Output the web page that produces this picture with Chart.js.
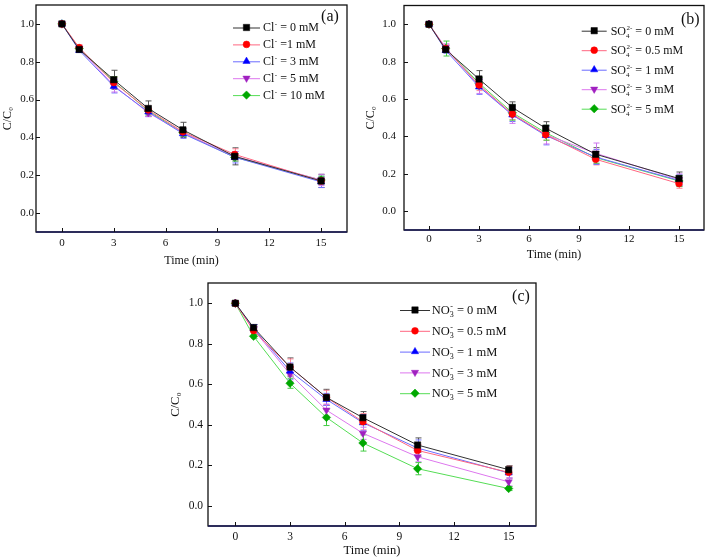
<!DOCTYPE html>
<html>
<head>
<meta charset="utf-8">
<script src="https://cdn.jsdelivr.net/npm/chart.js@4.4.1/dist/chart.umd.min.js"></script>
<style>
  body { margin: 0; background: #fff; }
  #wrap { position: relative; width: 709px; height: 560px; overflow: hidden; }
  canvas { position: absolute; }
</style>
</head>
<body>
<div id="wrap">
  <canvas id="chartA" width="352" height="272" style="left:0px;top:0px"></canvas>
  <canvas id="chartB" width="353" height="266" style="left:356px;top:0px"></canvas>
  <canvas id="chartC" width="377" height="282" style="left:165px;top:278px"></canvas>
</div>
<script>
// time points (min) and axis ticks
const timeMin = [0, 1, 3, 5, 7, 10, 15];
const xTicks = [0, 3, 6, 9, 12, 15];
const yTicks = [0, 0.2, 0.4, 0.6, 0.8, 1.0];

// (a) Cl-
const clLabels = [' = 0 mM', ' =1 mM', ' = 3 mM', ' = 5 mM', ' = 10 mM'];
const cl0 = [1.0, 0.865, 0.705, 0.553, 0.44, 0.30, 0.17];
const cl1 = [1.0, 0.875, 0.69, 0.545, 0.43, 0.31, 0.17];
const cl3 = [1.0, 0.86, 0.67, 0.535, 0.42, 0.295, 0.165];
const cl5 = [1.0, 0.87, 0.675, 0.53, 0.425, 0.30, 0.175];
const cl10 = [1.0, 0.87, 0.695, 0.54, 0.425, 0.295, 0.175];
const clErr0 = [0.005, 0.01, 0.05, 0.04, 0.04, 0.045, 0.035];
const clErr1 = [0.005, 0.015, 0.03, 0.02, 0.02, 0.03, 0.02];
const clErr3 = [0.005, 0.01, 0.035, 0.025, 0.025, 0.03, 0.03];
const clErr5 = [0.005, 0.015, 0.035, 0.02, 0.02, 0.025, 0.03];
const clErr10 = [0.005, 0.01, 0.025, 0.02, 0.02, 0.02, 0.02];

// (b) SO4 2-
const soLabels = [' = 0 mM', ' = 0.5 mM', ' = 1 mM', ' = 3 mM', ' = 5 mM'];
const so0 = [1.0, 0.865, 0.707, 0.555, 0.444, 0.305, 0.175];
const so05 = [1.0, 0.87, 0.675, 0.52, 0.41, 0.278, 0.148];
const so1 = [1.0, 0.86, 0.665, 0.515, 0.405, 0.29, 0.165];
const so3 = [1.0, 0.875, 0.67, 0.515, 0.41, 0.31, 0.17];
const so5 = [1.0, 0.87, 0.685, 0.527, 0.42, 0.287, 0.162];
const soErr0 = [0.005, 0.01, 0.045, 0.03, 0.035, 0.035, 0.035];
const soErr05 = [0.005, 0.02, 0.03, 0.03, 0.03, 0.03, 0.025];
const soErr1 = [0.005, 0.015, 0.04, 0.035, 0.05, 0.04, 0.03];
const soErr3 = [0.005, 0.02, 0.04, 0.045, 0.05, 0.055, 0.03];
const soErr5 = [0.005, 0.04, 0.03, 0.04, 0.04, 0.03, 0.03];

// (c) NO3-
const noLabels = [' = 0 mM', ' = 0.5 mM', ' = 1 mM', ' = 3 mM', ' = 5 mM'];
const no0 = [1.0, 0.88, 0.685, 0.535, 0.435, 0.30, 0.178];
const no05 = [1.0, 0.865, 0.685, 0.535, 0.415, 0.273, 0.165];
const no1 = [1.0, 0.875, 0.665, 0.525, 0.41, 0.285, 0.162];
const no3 = [1.0, 0.87, 0.65, 0.472, 0.358, 0.242, 0.118];
const no5 = [1.0, 0.837, 0.605, 0.436, 0.31, 0.183, 0.085];
const noErr0 = [0.005, 0.015, 0.045, 0.04, 0.03, 0.035, 0.02];
const noErr05 = [0.005, 0.02, 0.04, 0.035, 0.04, 0.03, 0.03];
const noErr1 = [0.005, 0.02, 0.04, 0.03, 0.04, 0.04, 0.025];
const noErr3 = [0.005, 0.015, 0.035, 0.03, 0.03, 0.025, 0.02];
const noErr5 = [0.005, 0.01, 0.025, 0.04, 0.04, 0.03, 0.01];

const SERIF = "'Liberation Serif', 'Times New Roman', serif";

// one style per series position: black square, red circle, blue triangle, magenta down triangle, green diamond
const styles = [
  { line: '#333333', fill: '#000000', err: '#555555', shape: 'rect', r: 4.5, rot: 0 },
  { line: '#ff6680', fill: '#ff0000', err: '#ff8899', shape: 'circle', r: 3.4, rot: 0 },
  { line: '#6b6bff', fill: '#0000ff', err: '#7777ff', shape: 'triangle', r: 4.2, rot: 0 },
  { line: '#dd77ee', fill: '#a020c0', err: '#cc77ee', shape: 'triangle', r: 4.2, rot: 180 },
  { line: '#55dd55', fill: '#00a800', err: '#44cc44', shape: 'rectRot', r: 4.2, rot: 0 }
];

function makeSets(ionText, labels, series, errs) {
  return series.map((vals, k) => {
    const s = styles[k];
    return {
      label: ionText + labels[k],
      data: timeMin.map((t, i) => ({ x: t, y: vals[i] })),
      err: errs[k],
      errColor: s.err,
      borderColor: s.line,
      borderWidth: 1,
      backgroundColor: s.fill,
      pointBackgroundColor: s.fill,
      pointBorderColor: s.fill,
      pointBorderWidth: 0.5,
      pointStyle: s.shape,
      pointRotation: s.rot,
      pointRadius: s.r,
      tension: 0
    };
  });
}

// error bars drawn under the markers
const errorBars = {
  id: 'errorBars',
  beforeDatasetsDraw(chart) {
    const { ctx, scales: { x, y } } = chart;
    ctx.save();
    chart.data.datasets.forEach(ds => {
      ctx.strokeStyle = ds.errColor;
      ctx.lineWidth = 1;
      timeMin.forEach((t, i) => {
        const e = ds.err[i];
        const v = ds.data[i].y;
        const px = Math.round(x.getPixelForValue(t)) + 0.5;
        const top = y.getPixelForValue(v + e);
        const bot = y.getPixelForValue(v - e);
        ctx.beginPath();
        ctx.moveTo(px, top); ctx.lineTo(px, bot);
        ctx.moveTo(px - 3, top); ctx.lineTo(px + 3, top);
        ctx.moveTo(px - 3, bot); ctx.lineTo(px + 3, bot);
        ctx.stroke();
      });
    });
    ctx.restore();
  }
};

// box around the plot and inward ticks on bottom and left
const frame = {
  id: 'frame',
  afterDatasetsDraw(chart) {
    const { ctx, chartArea: a, scales: { x, y } } = chart;
    ctx.save();
    ctx.strokeStyle = '#111';
    ctx.lineWidth = 1.3;
    ctx.strokeRect(a.left, a.top, a.right - a.left, a.bottom - a.top);
    ctx.strokeStyle = '#1c1c5a';
    ctx.beginPath();
    ctx.moveTo(a.left, a.bottom); ctx.lineTo(a.right, a.bottom);
    ctx.stroke();
    ctx.lineWidth = 1;
    ctx.strokeStyle = '#111';
    ctx.beginPath();
    xTicks.forEach(t => {
      const px = Math.round(x.getPixelForValue(t)) + 0.5;
      ctx.moveTo(px, a.bottom); ctx.lineTo(px, a.bottom - 4);
    });
    yTicks.forEach(t => {
      const py = Math.round(y.getPixelForValue(t)) + 0.5;
      ctx.moveTo(a.left, py); ctx.lineTo(a.left + 4, py);
    });
    ctx.stroke();
    ctx.restore();
  }
};

// legend inside the plot: line + marker + ion text with sub/superscript
const ionLegend = {
  id: 'ionLegend',
  afterDraw(chart, args, o) {
    const { ctx } = chart;
    ctx.save();
    chart.data.datasets.forEach((ds, k) => {
      const cy = o.y0 + k * o.dy;
      ctx.strokeStyle = ds.borderColor;
      ctx.lineWidth = 1;
      ctx.beginPath();
      ctx.moveTo(o.x0, cy + 0.5); ctx.lineTo(o.x1, cy + 0.5);
      ctx.stroke();
      ctx.fillStyle = ds.pointBackgroundColor;
      ctx.strokeStyle = ds.pointBorderColor;
      ctx.lineWidth = 0.5;
      Chart.helpers.drawPoint(ctx, { pointStyle: ds.pointStyle, rotation: ds.pointRotation, radius: ds.pointRadius, borderWidth: 0.5 }, (o.x0 + o.x1) / 2, cy);
      // text
      const f = o.size;
      const base = cy + f * 0.33;
      let tx = o.tx;
      ctx.fillStyle = '#111';
      ctx.textBaseline = 'alphabetic';
      ctx.textAlign = 'left';
      ctx.font = f + 'px ' + SERIF;
      ctx.fillText(o.ion.base, tx, base);
      tx += ctx.measureText(o.ion.base).width;
      const sf = Math.round(f * 0.6);
      ctx.font = sf + 'px ' + SERIF;
      let w = 0;
      if (o.ion.sub) {
        ctx.fillText(o.ion.sub, tx, base + f * 0.25);
        w = Math.max(w, ctx.measureText(o.ion.sub).width);
      }
      if (o.ion.sup) {
        ctx.fillText(o.ion.sup, tx + 0.5, base - f * 0.42);
        w = Math.max(w, ctx.measureText(o.ion.sup).width + 0.5);
      }
      tx += w;
      ctx.font = f + 'px ' + SERIF;
      ctx.fillText(o.suffix[k], tx, base);
    });
    ctx.font = o.tagSize + 'px ' + SERIF;
    ctx.textAlign = 'center';
    ctx.textBaseline = 'middle';
    ctx.fillStyle = '#111';
    ctx.fillText(o.tag, o.tagX, o.tagY);
    ctx.restore();
  }
};

function makeChart(id, sets, g) {
  return new Chart(document.getElementById(id), {
    type: 'line',
    data: { datasets: sets },
    plugins: [errorBars, frame, ionLegend],
    options: {
      responsive: false,
      animation: false,
      layout: { padding: g.pad },
      plugins: {
        legend: { display: false },
        tooltip: { enabled: false },
        ionLegend: g.legend
      },
      scales: {
        x: {
          type: 'linear',
          min: -1.5, max: 16.5,
          afterBuildTicks: s => { s.ticks = xTicks.map(v => ({ value: v })); },
          afterFit: s => { s.height = g.xh; s.paddingLeft = 0; s.paddingRight = 0; },
          grid: { display: false, drawTicks: false },
          border: { display: false },
          ticks: { padding: g.xtp, color: '#111', font: { family: SERIF, size: g.tick }, maxRotation: 0 },
          title: { display: true, text: 'Time (min)', color: '#111', font: { family: SERIF, size: g.title }, padding: { top: 0, bottom: g.xtitle } }
        },
        y: {
          type: 'linear',
          min: -0.1, max: 1.1,
          afterBuildTicks: s => { s.ticks = yTicks.map(v => ({ value: v })); },
          afterFit: s => { s.width = g.yw; s.paddingTop = 0; s.paddingBottom = 0; },
          grid: { display: false, drawTicks: false },
          border: { display: false },
          ticks: { padding: g.ytp, color: '#111', font: { family: SERIF, size: g.tick }, callback: v => v.toFixed(1) },
          title: { display: true, text: 'C/C₀', color: '#111', font: { family: SERIF, size: g.title }, padding: { top: g.ytitle, bottom: 0 } }
        }
      }
    }
  });
}

makeChart('chartA',
  makeSets('Cl⁻', clLabels, [cl0, cl1, cl3, cl5, cl10], [clErr0, clErr1, clErr3, clErr5, clErr10]),
  {
    pad: { left: 0, right: 4, top: 2, bottom: 0 }, xh: 40, yw: 36,
    xtp: 5, ytp: 2, tick: 11, title: 12, xtitle: 4, ytitle: 1,
    legend: { x0: 233, x1: 260, tx: 263, y0: 27.5, dy: 16.9, size: 12, ion: { base: 'Cl', sub: '', sup: '-' }, suffix: clLabels,
              tag: '(a)', tagX: 330, tagY: 17, tagSize: 16 }
  });

makeChart('chartB',
  makeSets('SO₄²⁻', soLabels, [so0, so05, so1, so3, so5], [soErr0, soErr05, soErr1, soErr3, soErr5]),
  {
    pad: { left: 0, right: 3, top: 5.5, bottom: 0 }, xh: 36, yw: 48,
    xtp: 3, ytp: 8, tick: 11, title: 12, xtitle: 4, ytitle: 7.5,
    legend: { x0: 225.7, x1: 250.7, tx: 254.7, y0: 30.7, dy: 19.5, size: 12, ion: { base: 'SO', sub: '4', sup: '2-' }, suffix: soLabels,
              tag: '(b)', tagX: 334.3, tagY: 19.3, tagSize: 16 }
  });

makeChart('chartC',
  makeSets('NO₃⁻', noLabels, [no0, no05, no1, no3, no5], [noErr0, noErr05, noErr1, noErr3, noErr5]),
  {
    pad: { left: 0, right: 6, top: 3.3, bottom: 0 }, xh: 34, yw: 43,
    xtp: 4, ytp: 5, tick: 11.5, title: 12.5, xtitle: 1.5, ytitle: 2.8,
    legend: { x0: 235, x1: 265, tx: 266.7, y0: 32, dy: 20.8, size: 12.5, ion: { base: 'NO', sub: '3', sup: '-' }, suffix: noLabels,
              tag: '(c)', tagX: 356, tagY: 18.7, tagSize: 16 }
  });
</script>
</body>
</html>
